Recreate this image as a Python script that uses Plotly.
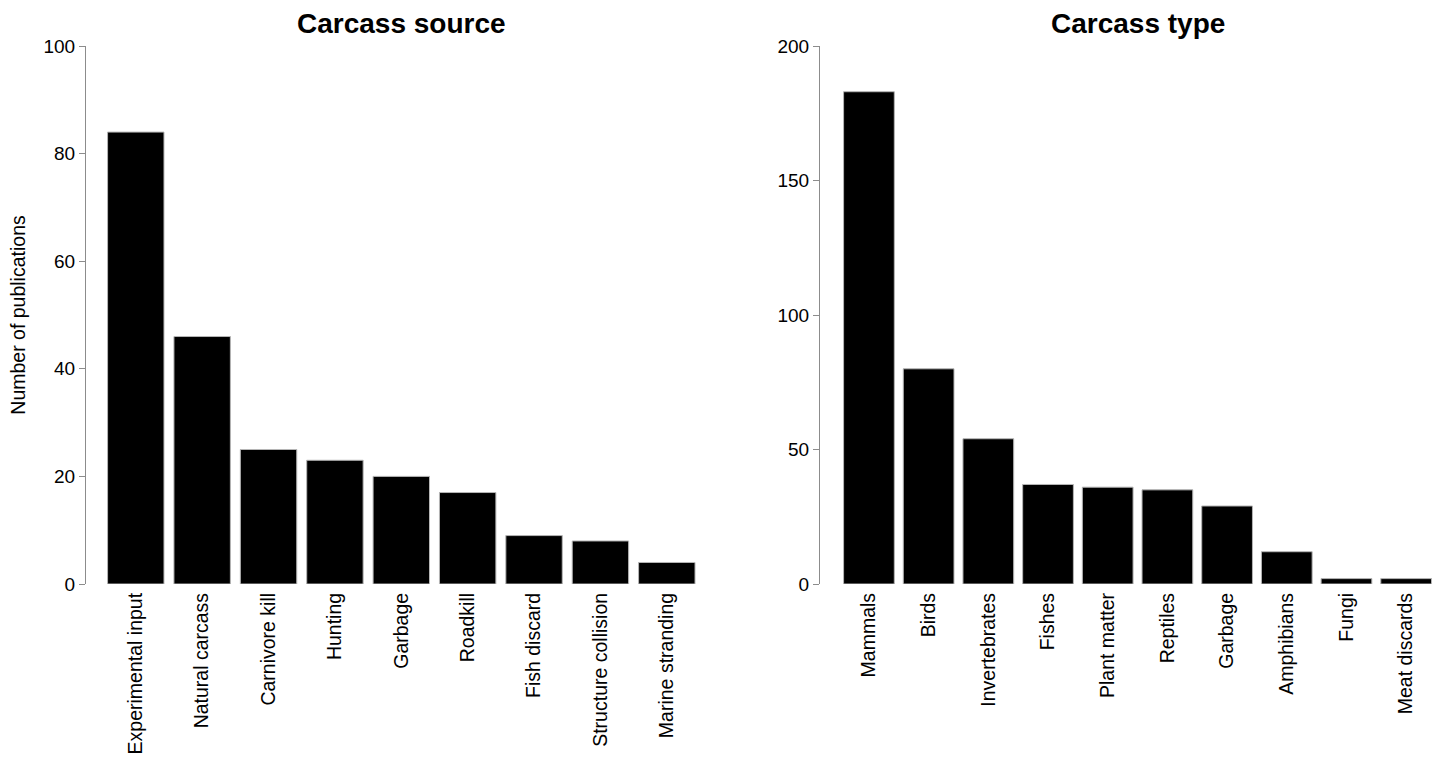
import plotly.graph_objects as go

# Publications by carcass source
source_labels = ["Experimental input", "Natural carcass", "Carnivore kill", "Hunting",
                 "Garbage", "Roadkill", "Fish discard", "Structure collision",
                 "Marine stranding"]
source_counts = [84, 46, 25, 23, 20, 17, 9, 8, 4]

# Publications by carcass type
type_labels = ["Mammals", "Birds", "Invertebrates", "Fishes", "Plant matter",
               "Reptiles", "Garbage", "Amphibians", "Fungi", "Meat discards"]
type_counts = [183, 80, 54, 37, 36, 35, 29, 12, 2, 2]

W, H = 1438, 765
TOP, BOTTOM = 46, 181
FONT = "Liberation Sans, Arial, sans-serif"

fig = go.Figure()
bar_style = dict(marker=dict(color="black", line=dict(color="#b5b5b5", width=1)),
                 showlegend=False, hoverinfo="x+y")
fig.add_trace(go.Bar(x=source_labels, y=source_counts, xaxis="x", yaxis="y", **bar_style))
fig.add_trace(go.Bar(x=type_labels, y=type_counts, xaxis="x2", yaxis="y2", **bar_style))

xcommon = dict(type="category", showline=False, showgrid=False, zeroline=False,
               ticks="", tickangle=-90, ticklabelstandoff=4,
               tickfont=dict(family=FONT, size=19.5, color="black"))
ycommon = dict(showline=True, linecolor="#8c8c8c", linewidth=1, showgrid=False,
               zeroline=False, ticks="outside", ticklen=6, tickcolor="#8c8c8c",
               tickfont=dict(family=FONT, size=19, color="black"))

plot_h = H - TOP - BOTTOM
title_y = 1 + (TOP - 23) / plot_h

fig.update_layout(
    width=W, height=H,
    margin=dict(l=0, r=0, t=TOP, b=BOTTOM),
    plot_bgcolor="white", paper_bgcolor="white",
    bargap=0.15,
    font=dict(family=FONT, color="black"),
    xaxis=dict(domain=[86 / W, 700 / W], range=[-0.75, 8.5], anchor="y", **xcommon),
    xaxis2=dict(domain=[820 / W, 1436 / W], range=[-0.82, 9.5], anchor="y2", **xcommon),
    yaxis=dict(range=[0, 100], dtick=20, anchor="x",
               title=dict(text="Number of publications", standoff=12,
                          font=dict(family=FONT, size=19.5, color="black")),
               **ycommon),
    yaxis2=dict(range=[0, 200], dtick=50, anchor="x2", **ycommon),
    annotations=[
        dict(text="<b>Carcass source</b>", x=402 / W, y=title_y, xref="paper", yref="paper",
             xanchor="center", yanchor="middle", showarrow=False,
             font=dict(family=FONT, size=28, color="black")),
        dict(text="<b>Carcass type</b>", x=1138 / W, y=title_y, xref="paper", yref="paper",
             xanchor="center", yanchor="middle", showarrow=False,
             font=dict(family=FONT, size=28, color="black")),
    ],
)

fig.write_html("out.html")
